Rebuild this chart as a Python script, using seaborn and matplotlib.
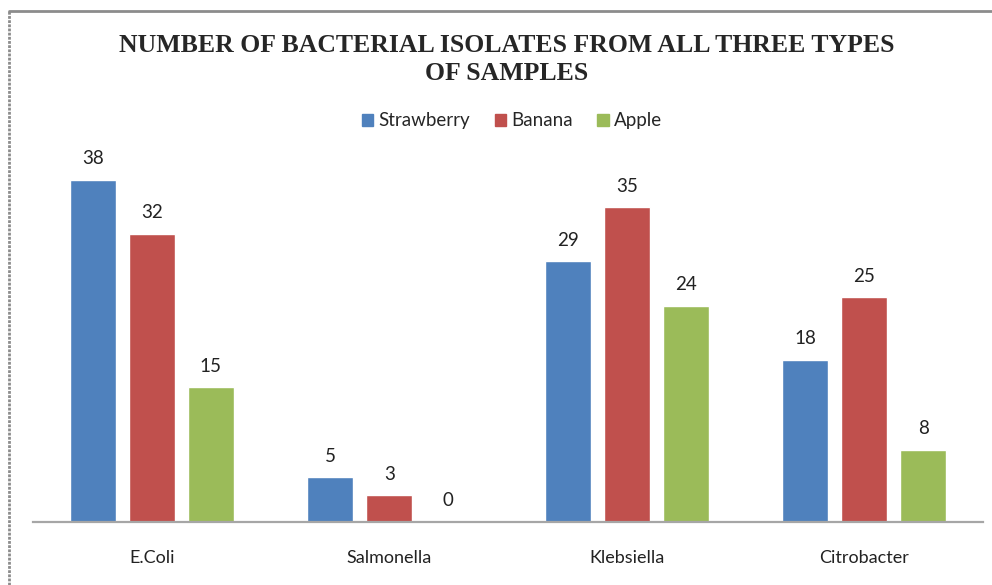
import numpy as np
import pandas as pd
import seaborn as sns
import matplotlib.pyplot as plt
from matplotlib.lines import Line2D

# data
bacteria = ["E.Coli", "Salmonella", "Klebsiella", "Citrobacter"]
samples = ["Strawberry", "Banana", "Apple"]
strawberry = [38, 5, 29, 18]
banana = [32, 3, 35, 25]
apple = [15, 0, 24, 8]
colors = ["#4F81BD", "#C0504D", "#9BBB59"]

df = pd.DataFrame({
    "Bacteria": bacteria * 3,
    "Sample": [s for s in samples for _ in bacteria],
    "Count": strawberry + banana + apple,
})

sns.set_theme(style="white")
plt.rcParams["font.family"] = ["Lato", "DejaVu Sans"]

fig = plt.figure(figsize=(9.92, 5.85), dpi=100)
ax = fig.add_axes([33 / 992, 63 / 585, 950 / 992, 382 / 585])

sns.barplot(data=df, x="Bacteria", y="Count", hue="Sample", palette=colors,
            width=0.745, gap=0.22, saturation=1, ax=ax, legend=False)

ax.set_ylim(0, 382 / 9.0)
ax.set_xlim(-0.5, 3.5)
ax.set_xlabel("")
ax.set_ylabel("")
ax.set_yticks([])
ax.tick_params(axis="x", length=0, pad=20, labelsize=13, labelcolor="#222222")
for side in ["top", "right", "left"]:
    ax.spines[side].set_visible(False)
ax.spines["bottom"].set_color("#A6A6A6")
ax.spines["bottom"].set_linewidth(1.6)

for cont in ax.containers:
    ax.bar_label(cont, padding=9, fontsize=13.5, color="#222222")

# legend
handles = [plt.Rectangle((0, 0), 1, 1, color=c) for c in colors]
fig.legend(handles, samples, loc="center", bbox_to_anchor=(512 / 992, 1 - 121 / 585),
           ncol=3, frameon=False, fontsize=13.5, handlelength=0.6, handleheight=0.6,
           handletextpad=0.3, columnspacing=1.3)

fig.suptitle("NUMBER OF BACTERIAL ISOLATES FROM ALL THREE TYPES\nOF SAMPLES",
             x=507 / 992, y=1 - 34 / 585, fontsize=18.5, fontweight="bold",
             family="Liberation Serif", linespacing=1.3, va="top")

# chart frame
fig.add_artist(Line2D([9 / 992, 9 / 992], [0, 1 - 11 / 585], transform=fig.transFigure,
                      color="#8C8C8C", lw=2, linestyle=(0, (1, 0.5))))
fig.add_artist(Line2D([9 / 992, 1], [1 - 11 / 585, 1 - 11 / 585], transform=fig.transFigure,
                      color="#8C8C8C", lw=2))

fig.savefig("out.png", dpi=100)
